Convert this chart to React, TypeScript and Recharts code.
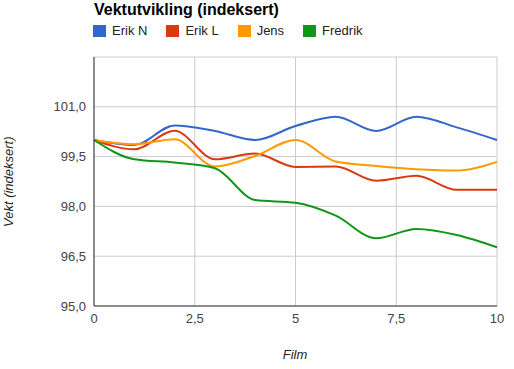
import React from 'react';
import { CartesianGrid, Line, LineChart, XAxis, YAxis } from 'recharts';

const FILM = [0, 1, 2, 3, 4, 5, 6, 7, 8, 9, 10];
const ERIK_N = [100.0, 99.85, 100.44, 100.27, 100.0, 100.42, 100.7, 100.27, 100.7, 100.38, 100.0];
const ERIK_L = [100.0, 99.72, 100.28, 99.42, 99.59, 99.19, 99.2, 98.77, 98.92, 98.5, 98.5];
const JENS = [100.0, 99.87, 100.02, 99.2, 99.52, 100.0, 99.35, 99.22, 99.12, 99.08, 99.34];
const FREDRIK = [100.0, 99.42, 99.32, 99.15, 98.19, 98.11, 97.72, 97.04, 97.32, 97.14, 96.77];

const Y_TICKS = [95, 96.5, 98, 99.5, 101];
const X_TICKS = [0, 2.5, 5, 7.5, 10];

const SERIES = [
  { key: 'erikN', name: 'Erik N', color: '#3366cc', values: ERIK_N },
  { key: 'erikL', name: 'Erik L', color: '#dc3912', values: ERIK_L },
  { key: 'jens', name: 'Jens', color: '#ff9900', values: JENS },
  { key: 'fredrik', name: 'Fredrik', color: '#109618', values: FREDRIK },
];

const FONT = "Arial, 'Liberation Sans', sans-serif";

const data = FILM.map((f, i) => {
  const row: Record<string, number> = { film: f };
  SERIES.forEach(s => {
    row[s.key] = s.values[i];
  });
  return row;
});

const comma = (v: number, digits?: number) =>
  (digits !== undefined ? v.toFixed(digits) : String(v)).replace('.', ',');

export default function App() {
  return (
    <div
      style={{
        position: 'absolute',
        left: 0,
        top: 0,
        width: 514,
        height: 369,
        background: '#fff',
        fontFamily: FONT,
      }}
    >
      <div style={{ position: 'absolute', left: 0, top: 0 }}>
        <LineChart
          width={514}
          height={369}
          data={data}
          margin={{ top: 57, right: 17, left: 0, bottom: 0 }}
        >
          <CartesianGrid stroke='#cccccc' />
          <XAxis
            dataKey='film'
            type='number'
            domain={[0, 10]}
            ticks={X_TICKS}
            tickFormatter={(v: number) => comma(v)}
            height={63}
            tickLine={false}
            axisLine={{ stroke: '#333333' }}
            tick={{ fontSize: 13, fill: '#444444', fontFamily: FONT }}
          />
          <YAxis
            type='number'
            domain={[95, 102.5]}
            ticks={Y_TICKS}
            tickFormatter={(v: number) => comma(v, 1)}
            width={94}
            tickLine={false}
            axisLine={{ stroke: '#333333' }}
            tick={{ fontSize: 13, fill: '#444444', fontFamily: FONT }}
          />
          {SERIES.map(s => (
            <Line
              key={s.key}
              dataKey={s.key}
              name={s.name}
              type='monotone'
              stroke={s.color}
              strokeWidth={2}
              dot={false}
              isAnimationActive={false}
            />
          ))}
        </LineChart>
      </div>
      <div
        style={{
          position: 'absolute',
          left: 94,
          top: 0,
          fontSize: 16,
          fontWeight: 'bold',
          color: '#000',
          lineHeight: '20px',
          whiteSpace: 'nowrap',
        }}
      >
        Vektutvikling (indeksert)
      </div>
      <div
        style={{
          position: 'absolute',
          left: 93,
          top: 23,
          display: 'flex',
          gap: 19,
          fontSize: 13,
          color: '#222',
          lineHeight: '16px',
          whiteSpace: 'nowrap',
        }}
      >
        {SERIES.map(s => (
          <span key={s.key} style={{ display: 'flex', alignItems: 'center', gap: 6 }}>
            <span style={{ width: 13, height: 12, background: s.color, display: 'inline-block' }} />
            {s.name}
          </span>
        ))}
      </div>
      <div
        style={{
          position: 'absolute',
          left: 1,
          top: 132,
          width: 16,
          height: 100,
          writingMode: 'vertical-rl',
          transform: 'rotate(180deg)',
          fontSize: 13,
          lineHeight: '16px',
          fontStyle: 'italic',
          color: '#222',
          textAlign: 'center',
          whiteSpace: 'nowrap',
        }}
      >
        Vekt (indeksert)
      </div>
      <div
        style={{
          position: 'absolute',
          left: 245,
          top: 347,
          width: 100,
          textAlign: 'center',
          fontSize: 13,
          lineHeight: '16px',
          fontStyle: 'italic',
          color: '#222',
        }}
      >
        Film
      </div>
    </div>
  );
}
